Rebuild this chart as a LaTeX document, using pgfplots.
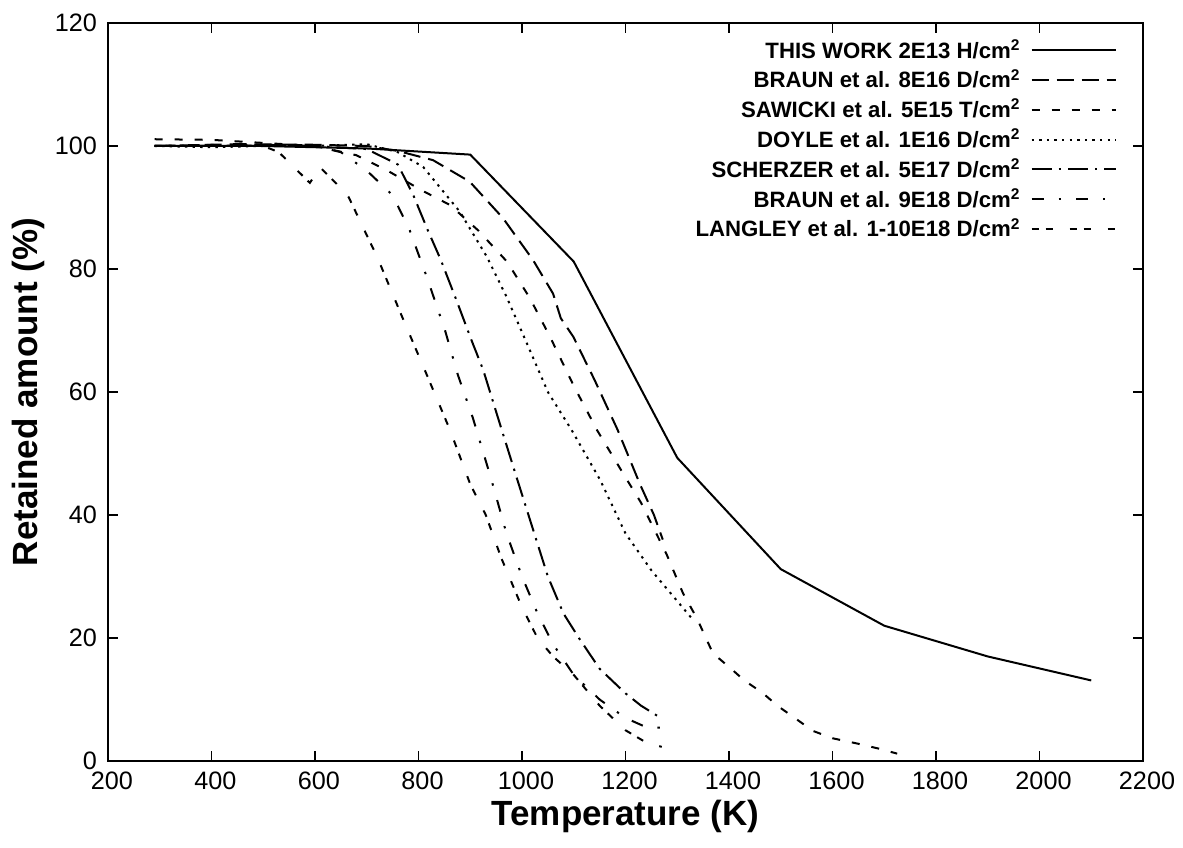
\documentclass[border=0pt]{standalone}
\usepackage{fontspec}
\setmainfont{Liberation Sans}
\usepackage{pgfplots}
\pgfplotsset{compat=1.18}
\begin{document}
\begin{tikzpicture}
\path[use as bounding box] (-54pt,-43pt) rectangle (537.5pt,380.5pt);
\begin{axis}[
  scale only axis, width=517.5pt, height=369pt,
  xmin=200, xmax=2200, ymin=0, ymax=120,
  xtick={200,400,...,2200}, ytick={0,20,...,120},
  tick align=inside, major tick length=5pt,
  axis line style={line width=0.9pt},
  every tick/.style={line width=0.7pt, black},
  /pgf/number format/assume math mode=true,
  /pgf/number format/1000 sep={},
  tick label style={font=\fontsize{12.6}{14}\selectfont},
  xticklabel style={xshift=2pt, yshift=-2pt},
  yticklabel style={xshift=-2pt},
  xlabel={\bfseries Temperature (K)},
  ylabel={\bfseries Retained amount (\%)},
  label style={font=\fontsize{17.5}{20}\bfseries\selectfont},
  xlabel style={yshift=2pt},
  ylabel style={yshift=-2pt},
  legend style={draw=none, fill=none, at={(1,1)}, anchor=north east,
    xshift=-10pt, yshift=-4pt,
    font=\fontsize{11.1}{12}\bfseries\selectfont,
    row sep=0pt,
    /tikz/every odd column/.append style={column sep=3pt}},
  legend cell align=right,
  legend plot pos=right,
  legend image code/.code={\draw[#1] (0pt,0pt) -- (42pt,0pt);},
  every axis plot/.append style={line width=1pt, black},
]
\addplot[solid] coordinates {(290,100)(500,100)(700,99.6)(900,98.6)(1100,81.2)(1300,49.3)(1500,31.2)(1700,22)(1900,17)(2100,13.1)};
\addlegendentry{THIS WORK 2E13 H/cm\textsuperscript{2}}
\addplot[dash pattern=on 8.5pt off 4pt] coordinates {(290,100)(450,100.3)(600,100.2)(700,100)(760,99.2)(828,97.7)(899,94.2)(963,88.3)(1021,81.5)(1060,76)(1075,72)(1099,69)(1140,62)(1185,53.8)(1228,45)(1255,40)(1272,36)};
\addlegendentry{BRAUN et al. 8E16 D/cm\textsuperscript{2}}
\addplot[dash pattern=on 4pt off 6pt] coordinates {(290,101.1)(400,101)(500,100.5)(600,100)(680,98.5)(740,96)(806,92.8)(861,90.4)(915,86.3)(971,81.2)(1015,75.3)(1054,69)(1100,61)(1145,53.8)(1203,45.7)(1230,42)(1280,33.5)(1311,27.3)(1338,23.2)(1369,17.5)(1400,15.3)(1431,13)(1463,11.2)(1495,8.9)(1527,7)(1562,4.9)(1600,3.7)(1650,2.8)(1690,2)(1725,1.2)};
\addlegendentry{SAWICKI et al. 5E15 T/cm\textsuperscript{2}}
\addplot[dash pattern=on 1.2pt off 2.6pt] coordinates {(290,100)(400,99.8)(500,100)(600,100)(700,100.3)(760,99)(809,96.6)(880,89.3)(932,82)(970,75.5)(1009,68)(1050,60)(1096,53.8)(1151,45.7)(1200,37)(1250,31)(1300,26)(1330,23)};
\addlegendentry{DOYLE et al. 1E16 D/cm\textsuperscript{2}}
\addplot[dash pattern=on 10pt off 3.5pt on 1.2pt off 3.5pt] coordinates {(290,100)(400,100)(500,100.2)(600,100)(700,99.5)(760,97)(790,92)(818,86.3)(843,81.5)(873,75)(902,68.5)(925,63.6)(961,53.8)(990,46)(1020,38)(1050,30)(1080,24)(1110,20)(1150,15)(1200,11)(1230,9)(1270,6.9)};
\addlegendentry{SCHERZER et al. 5E17 D/cm\textsuperscript{2}}
\addplot[dash pattern=on 6pt off 7.5pt on 1.2pt off 7.5pt] coordinates {(290,100)(500,100)(600,100)(650,99)(700,96)(750,92)(783,86.3)(816,78.7)(851,70.1)(876,62.8)(905,55.8)(940,46)(970,37)(1000,30)(1030,24)(1060,19)(1100,14)(1150,10)(1200,7)(1240,5.5)(1274,5.4)};
\addlegendentry{BRAUN et al. 9E18 D/cm\textsuperscript{2}}
\addplot[dash pattern=on 3.5pt off 3.5pt on 3.5pt off 8.5pt] coordinates {(290,100)(400,100.2)(500,100)(530,99)(560,96.5)(590,94)(610,96.5)(640,94)(665,91.7)(700,85.5)(720,82)(767,72.5)(812,63.6)(861,53.8)(900,45)(930,40)(960,33)(1000,25)(1030,20)(1060,17)(1100,14)(1150,9)(1200,5)(1240,3)(1270,2.3)};
\addlegendentry{LANGLEY et al. 1-10E18 D/cm\textsuperscript{2}}
\end{axis}
\end{tikzpicture}
\end{document}
